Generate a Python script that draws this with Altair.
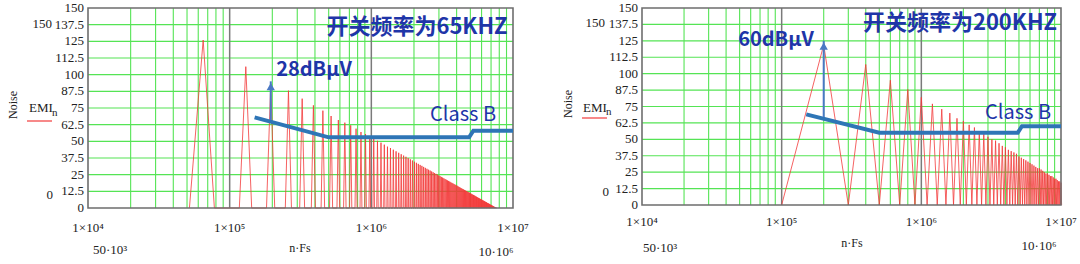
import altair as alt
import pandas as pd

# ---------------- data ----------------
Y_TICKS = [0, 12.5, 25, 37.5, 50, 62.5, 75, 87.5, 100, 112.5, 125, 137.5, 150]
Y_TICK_LABELS = ["0", "12.5", "25", "37.5", "50", "62.5", "75", "87.5",
                 "100", "112.5", "125", "137.5", "150"]
DECADES = [1e4, 1e5, 1e6, 1e7]
DECADE_LABELS = ["1×10⁴", "1×10⁵", "1×10⁶", "1×10⁷"]
MINOR_MULT = [2, 3, 4, 5, 6, 7, 8, 9]

# left panel: switching frequency 65 kHz, harmonic peak heights (dBµV)
FS_L = 65e3
STEP_L = 13e3
PEAKS_L = [126, 106, 93, 88, 82, 77, 73, 69, 66, 64,
           62, 59.5, 57, 55.5, 54, 52, 50.4, 49, 47.5, 46,
           45, 43.7, 42.5, 41.4, 40.3, 39.3, 38.4, 37.4, 36.5, 35.6,
           34.7, 33.9, 33.1, 32.3, 31.6, 30.8, 30.1, 29.4, 28.7, 28.1,
           27.4, 26.8, 26.2, 25.6, 25.0, 24.4, 23.9, 23.3, 22.8, 22.3,
           21.7, 21.2, 20.7, 20.3, 19.8, 19.3, 18.8, 18.4, 17.9, 17.5,
           17.1, 16.7, 16.2, 15.8, 15.4, 15.0, 14.6, 14.2, 13.9, 13.5,
           13.1, 12.8, 12.4, 12.0, 11.7, 11.4, 11.0, 10.7, 10.3, 10.0,
           9.7, 9.4, 9.1, 8.7, 8.4, 8.1, 7.8, 7.5, 7.2, 6.9,
           6.7, 6.4, 6.1, 5.8, 5.5, 5.3, 5.0, 4.7, 4.5, 4.2,
           3.9, 3.7, 3.4, 3.2, 2.9, 2.7, 2.4, 2.2, 1.9, 1.7,
           1.5, 1.2, 1.0, 0.8, 0.5, 0.3, 0.1, 0.0]

# right panel: switching frequency 200 kHz
FS_R = 200e3
STEP_R = 100e3
PEAKS_R = [122, 107, 95, 88, 82, 77, 73, 70, 66, 64,
           61, 59, 56, 54, 52, 50, 49, 47, 45, 44,
           42, 41, 40, 39, 37, 36, 35, 34, 33, 32,
           31, 30, 29, 28, 28, 27, 26, 25, 24, 24,
           23, 22, 22, 21, 20, 20, 19, 18, 18, 17]

# Class B limit line
CLASSB_F = [150e3, 500e3, 4.9e6, 5.25e6, 1e7]
CLASSB_L = [68, 53, 53, 58, 58]
CLASSB_R = [69, 55, 55, 60, 60]

# arrows: frequency, base, tip, head centre
ARROW_L = [195e3, 66, 95, 91]
ARROW_R = [200e3, 67, 125, 121]

PANELS = {
    "L": dict(xr=[88, 513], yr=[208, 8], fs=FS_L, step=STEP_L, peaks=PEAKS_L,
              cb=CLASSB_L, arrow=ARROW_L, xlab_dy=20),
    "R": dict(xr=[642, 1061], yr=[205, 8], fs=FS_R, step=STEP_R, peaks=PEAKS_R,
              cb=CLASSB_R, arrow=ARROW_R, xlab_dy=17),
}

RED = "#f23a3a"
GREEN = "#55e455"
BLUE_LINE = "#2e75b6"
ARROW_C = "#4a78c4"
TEXT_BLUE = "#1f35a8"
SERIF = "Liberation Serif"
CJK = "Noto Sans CJK SC"


def X(field, p):
    return alt.X(field, type="quantitative",
                 scale=alt.Scale(type="log", domain=[1e4, 1e7], range=p["xr"], nice=False),
                 axis=None)


def Y(field, p):
    return alt.Y(field, type="quantitative",
                 scale=alt.Scale(domain=[0, 150], range=p["yr"], nice=False, zero=False),
                 axis=None)


def txt(x, y, s, size=13, font=SERIF, color="#222", align="center", weight="normal", angle=0):
    kw = dict(align=align, baseline="middle", fontSize=size, font=font, color=color,
              fontWeight=weight)
    if angle:
        kw["angle"] = angle
    return alt.Chart(pd.DataFrame({"t": [s]})).mark_text(**kw).encode(
        x=alt.value(x), y=alt.value(y), text="t:N")


layers = []
for key, p in PANELS.items():
    # grid
    minor = [m * d for d in DECADES[:-1] for m in MINOR_MULT]
    vg = pd.DataFrame({"f": minor, "y0": 0, "y1": 150})
    layers.append(alt.Chart(vg).mark_rule(color=GREEN, strokeWidth=1.1).encode(
        x=X("f", p), y=Y("y0", p), y2="y1"))
    hg = pd.DataFrame({"y": Y_TICKS[1:-1], "f0": 1e4, "f1": 1e7})
    layers.append(alt.Chart(hg).mark_rule(color=GREEN, strokeWidth=1.1).encode(
        x=X("f0", p), x2="f1", y=Y("y", p)))
    dg = pd.DataFrame({"f": DECADES[1:-1], "y0": 0, "y1": 150})
    layers.append(alt.Chart(dg).mark_rule(color="#7a7a7a", strokeWidth=1.5).encode(
        x=X("f", p), y=Y("y0", p), y2="y1"))

    # EMI trace
    rows = []
    i = 0
    for n, pk in enumerate(p["peaks"], start=1):
        f = n * p["fs"]
        for ff, vv in ((f - p["step"], 0.0), (f, pk), (f + p["step"], 0.0)):
            rows.append({"f": ff, "v": vv, "i": i})
            i += 1
    tr = pd.DataFrame(rows)
    layers.append(alt.Chart(tr).mark_line(color=RED, strokeWidth=0.8, clip=True).encode(
        x=X("f", p), y=Y("v", p), order="i:Q"))

    # frame
    fr = pd.DataFrame({"f0": [1e4], "f1": [1e7], "y0": [0], "y1": [150]})
    layers.append(alt.Chart(fr).mark_rect(fill="transparent", stroke="#6e6e6e",
                                          strokeWidth=1.6).encode(
        x=X("f0", p), x2="f1", y=Y("y0", p), y2="y1"))

    # Class B line
    cb = pd.DataFrame({"f": CLASSB_F, "v": p["cb"]})
    layers.append(alt.Chart(cb).mark_line(color=BLUE_LINE, strokeWidth=4).encode(
        x=X("f", p), y=Y("v", p)))

    # arrow
    af, ab, at, ah = p["arrow"]
    ar = pd.DataFrame({"f": [af], "b": [ab], "t": [at], "h": [ah]})
    layers.append(alt.Chart(ar).mark_rule(color=ARROW_C, strokeWidth=2).encode(
        x=X("f", p), y=Y("b", p), y2="t"))
    layers.append(alt.Chart(ar).mark_point(shape="triangle-up", filled=True, color=ARROW_C,
                                           size=70, opacity=1).encode(
        x=X("f", p), y=Y("h", p)))

    # y tick labels
    yl = pd.DataFrame({"y": Y_TICKS, "label": Y_TICK_LABELS, "f": 1e4})
    layers.append(alt.Chart(yl).mark_text(align="right", baseline="middle", dx=-4,
                                          fontSize=13, font=SERIF, color="#222").encode(
        x=X("f", p), y=Y("y", p), text="label:N"))
    # x tick labels
    xl = pd.DataFrame({"f": DECADES, "label": DECADE_LABELS, "y": 0})
    layers.append(alt.Chart(xl).mark_text(align="center", baseline="middle", dy=p["xlab_dy"],
                                          fontSize=13, font=SERIF, color="#222").encode(
        x=X("f", p), y=Y("y", p), text="label:N"))

# ---- extra labels (left panel) ----
layers += [
    txt(52, 24, "150", align="right"),
    txt(53, 195, "0", align="right"),
    txt(13, 105, "Noise", size=12, angle=270),
    txt(29, 108, "EMI", size=13, align="left"),
    txt(52, 113, "n", size=11, align="left"),
    txt(110, 250, "50·10³"),
    txt(300, 248, "n·Fs", size=12),
    txt(496, 252, "10·10⁶"),
    txt(417, 27, "开关频率为65KHZ", size=22, font=CJK, color=TEXT_BLUE, weight="bold"),
    txt(314, 70, "28dBµV", size=20, font=CJK, color=TEXT_BLUE, weight="bold"),
    txt(463, 115, "Class B", size=20, font=CJK, color=TEXT_BLUE),
]
# ---- extra labels (right panel) ----
layers += [
    txt(605, 23, "150", align="right"),
    txt(609, 192, "0", align="right"),
    txt(568, 104, "Noise", size=12, angle=270),
    txt(583, 108, "EMI", size=13, align="left"),
    txt(606, 112, "n", size=11, align="left"),
    txt(660, 248, "50·10³"),
    txt(852, 243, "n·Fs", size=12),
    txt(1039, 246, "10·10⁶"),
    txt(960, 23, "开关频率为200KHZ", size=22, font=CJK, color=TEXT_BLUE, weight="bold"),
    txt(776, 40, "60dBµV", size=20, font=CJK, color=TEXT_BLUE, weight="bold"),
    txt(1018, 113, "Class B", size=20, font=CJK, color=TEXT_BLUE),
]

# legend lines
leg = pd.DataFrame({"a": [0]})
layers.append(alt.Chart(leg).mark_rule(color=RED, strokeWidth=1.2).encode(
    x=alt.value(27), x2=alt.value(52), y=alt.value(121)))
layers.append(alt.Chart(leg).mark_rule(color=RED, strokeWidth=1.2).encode(
    x=alt.value(582), x2=alt.value(607), y=alt.value(118)))

chart = alt.layer(*layers).resolve_scale(x="independent", y="independent").properties(
    width=1080, height=264, padding=0,
    autosize=alt.AutoSizeParams(type="none"),
    background="white",
).configure_view(stroke=None)

chart.save("out.html", embed_options={"renderer": "svg", "actions": False})
